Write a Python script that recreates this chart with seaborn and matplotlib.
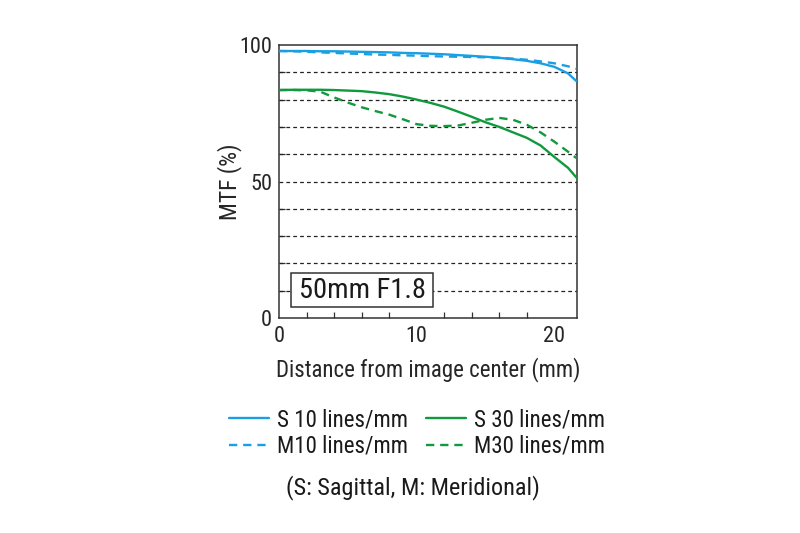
import matplotlib
matplotlib.use("Agg")
import matplotlib.pyplot as plt
from matplotlib import font_manager
from matplotlib.patches import Rectangle
import seaborn as sns
import pandas as pd
from matplotlib.ticker import MultipleLocator, FixedLocator

# ---- data ----
distance_mm = [0, 1, 2, 3, 4, 5, 6, 7, 8, 9, 10, 11, 12, 13, 14, 15, 16, 17, 18, 19, 20, 21, 21.6]
s10 = [97.8, 97.8, 97.8, 97.7, 97.7, 97.6, 97.5, 97.4, 97.3, 97.1, 97.0, 96.8, 96.6, 96.3, 96.0, 95.7, 95.3, 94.8, 94.2, 93.3, 92.0, 89.6, 86.8]
m10 = [97.8, 97.7, 97.5, 97.3, 97.1, 96.9, 96.7, 96.5, 96.4, 96.2, 96.1, 95.9, 95.8, 95.7, 95.6, 95.5, 95.3, 95.0, 94.6, 94.0, 93.3, 92.2, 91.3]
s30 = [83.5, 83.6, 83.6, 83.6, 83.5, 83.3, 83.1, 82.6, 82.0, 81.1, 80.0, 78.8, 77.4, 75.6, 73.7, 71.7, 70.0, 68.0, 66.0, 63.2, 59.0, 55.0, 51.5]
m30 = [83.5, 83.5, 83.4, 82.9, 80.8, 78.9, 77.2, 75.8, 74.5, 72.8, 71.0, 70.4, 70.3, 70.5, 71.5, 72.6, 73.3, 72.6, 70.8, 68.0, 64.6, 60.9, 58.6]
series_labels = ["S 10 lines/mm", "M10 lines/mm", "S 30 lines/mm", "M30 lines/mm"]
y_tick_labels = [0, 50, 100]
x_tick_labels = [0, 10, 20]
lens_label = "50mm F1.8"
caption = "(S: Sagittal, M: Meridional)"

BLUE = "#1a9fe3"
GREEN = "#10993d"

sns.set_theme(style="white")

# prefer a narrow font if one is installed
available = {f.name for f in font_manager.fontManager.ttflist}
prefs = ["Liberation Sans Narrow", "Roboto Condensed", "Open Sans Condensed",
         "DejaVu Sans Condensed", "Liberation Sans"]
chosen = [p for p in prefs if p in available][:1]
plt.rcParams["font.family"] = chosen + ["DejaVu Sans"]
plt.rcParams["text.color"] = "#1a1a1a"

fig = plt.figure(figsize=(8.0, 5.33), dpi=100)
ax = fig.add_axes([279 / 800, 1 - 318 / 533, 298 / 800, 273 / 533])

styles = [
    (s10, BLUE, "-"),
    (m10, BLUE, (0, (3.5, 2.5))),
    (s30, GREEN, "-"),
    (m30, GREEN, (0, (3.5, 2.5))),
]
for (vals, col, ls), lab in zip(styles, series_labels):
    df = pd.DataFrame({"x": distance_mm, "y": vals})
    sns.lineplot(data=df, x="x", y="y", ax=ax, color=col, linestyle=ls,
                 linewidth=1.7, label=lab, zorder=3)

ax.set_xlim(0, 21.65)
ax.set_ylim(0, 100)

# dashed grid at 10..90
for g in range(10, 100, 10):
    ax.axhline(g, color="#222222", linewidth=0.9, linestyle=(0, (3, 2.5)), zorder=1)

ax.yaxis.set_major_locator(FixedLocator(y_tick_labels))
ax.yaxis.set_minor_locator(MultipleLocator(10))
ax.xaxis.set_major_locator(FixedLocator(x_tick_labels))
ax.xaxis.set_minor_locator(MultipleLocator(2))
ax.tick_params(axis="both", which="both", direction="in", length=4, width=0.9,
               color="#333333", labelsize=16)
ax.tick_params(axis="x", which="major", pad=6)
ax.tick_params(axis="y", which="major", pad=5)
ax.tick_params(axis="x", which="minor", bottom=True)
ax.tick_params(axis="y", which="minor", left=True)

for sp in ax.spines.values():
    sp.set_color("#333333")
    sp.set_linewidth(1.1)

ax.set_xlabel("Distance from image center (mm)", fontsize=16.5, labelpad=7)
ax.set_ylabel("MTF (%)", fontsize=17, labelpad=-2)

ax.add_patch(Rectangle((0.040, 0.040), 0.477, 0.125, transform=ax.transAxes,
                       facecolor="white", edgecolor="#333333", linewidth=1.1, zorder=4))
ax.text(0.279, 0.101, lens_label, transform=ax.transAxes, fontsize=20.5,
        ha="center", va="center", zorder=5)

handles, labels = ax.get_legend_handles_labels()
ax.get_legend().remove()
fig.legend(handles, labels, ncol=2, loc="center", bbox_to_anchor=(417 / 800, 1 - 433 / 533),
           frameon=False, fontsize=16.5, handlelength=1.75, handletextpad=0.35,
           columnspacing=0.8, labelspacing=0.15)

fig.text(413 / 800, 1 - 488 / 533, caption, ha="center", va="center", fontsize=17.5)

fig.savefig("out.png", dpi=100, facecolor="white")
